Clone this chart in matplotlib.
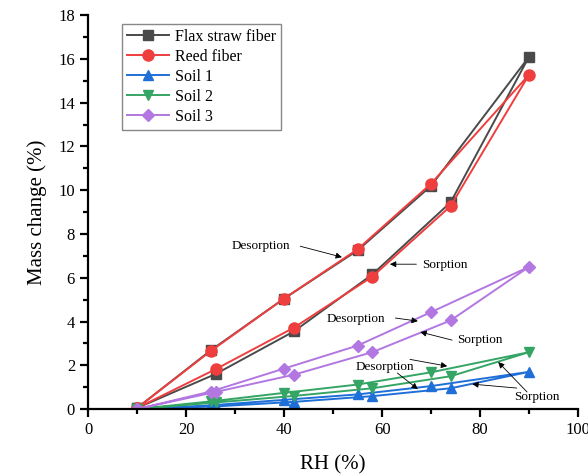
import matplotlib.pyplot as plt

plt.rcParams["font.family"] = ["Liberation Serif", "DejaVu Serif"]

# relative humidity steps (%)
rh_sorption = [10, 26, 42, 58, 74, 90]
rh_desorption = [90, 70, 55, 40, 25, 10]

names = ["Flax straw fiber", "Reed fiber", "Soil 1", "Soil 2", "Soil 3"]

# mass change (%)
flax_sorp = [0.05, 1.6, 3.55, 6.15, 9.45, 16.1]
flax_desorp = [16.1, 10.2, 7.25, 5.05, 2.68, 0.05]
reed_sorp = [0.05, 1.82, 3.72, 6.05, 9.28, 15.28]
reed_desorp = [15.28, 10.3, 7.3, 5.05, 2.65, 0.05]
soil1_sorp = [0.0, 0.12, 0.33, 0.59, 0.95, 1.7]
soil1_desorp = [1.7, 1.05, 0.67, 0.42, 0.17, 0.0]
soil2_sorp = [0.0, 0.3, 0.6, 0.95, 1.5, 2.6]
soil2_desorp = [2.6, 1.68, 1.12, 0.74, 0.35, 0.0]
soil3_sorp = [0.0, 0.78, 1.57, 2.6, 4.05, 6.5]
soil3_desorp = [6.5, 4.43, 2.9, 1.85, 0.8, 0.0]

sorp = [flax_sorp, reed_sorp, soil1_sorp, soil2_sorp, soil3_sorp]
desorp = [flax_desorp, reed_desorp, soil1_desorp, soil2_desorp, soil3_desorp]
colors = ["#4a4a4a", "#ef3e3e", "#1f6fd8", "#35a565", "#b277e0"]
markers = ["s", "o", "^", "v", "D"]
sizes = [7, 8, 7.5, 7.5, 6.5]


def main():
    fig = plt.figure(figsize=(5.88, 4.74), dpi=100)
    ax = fig.add_axes([0.150, 0.137, 0.833, 0.831])

    for name, s, d, c, m, ms in zip(names, sorp, desorp, colors, markers, sizes):
        x = rh_sorption + rh_desorption[1:]
        y = s + d[1:]
        ax.plot(x, y, color=c, marker=m, markersize=ms, lw=1.4, label=name)

    ax.set_xlim(0, 100)
    ax.set_ylim(0, 18)
    ax.set_xticks(range(0, 101, 20))
    ax.set_xticks(range(10, 100, 20), minor=True)
    ax.set_yticks(range(0, 19, 2))
    ax.set_yticks(range(1, 18, 2), minor=True)
    ax.spines["top"].set_visible(False)
    ax.spines["right"].set_visible(False)
    for sp in ("left", "bottom"):
        ax.spines[sp].set_linewidth(1.6)
    ax.tick_params(which="major", direction="out", length=6, width=1.6, labelsize=12)
    ax.tick_params(which="minor", direction="out", length=3.5, width=1.6)
    ax.set_xlabel("RH (%)", fontsize=15, labelpad=12)
    ax.set_ylabel("Mass change (%)", fontsize=15, labelpad=8)

    leg = ax.legend(loc="upper left", bbox_to_anchor=(0.07, 0.977), fontsize=11.5,
                    fancybox=False, edgecolor="#888888", framealpha=1,
                    borderaxespad=0, handlelength=2.6, borderpad=0.3,
                    labelspacing=0.25, handletextpad=0.4)
    leg.get_frame().set_linewidth(1.0)

    arrow = dict(arrowstyle="-|>", color="black", lw=0.6, mutation_scale=9,
                 shrinkA=0, shrinkB=0)
    fs = 9.5
    # fibers
    ax.annotate("", xy=(51.8, 6.94), xytext=(43.3, 7.44), arrowprops=arrow)
    ax.text(35.3, 7.44, "Desorption", fontsize=fs, ha="center", va="center")
    ax.annotate("", xy=(61.6, 6.62), xytext=(67.0, 6.62), arrowprops=arrow)
    ax.text(68.2, 6.58, "Sorption", fontsize=fs, ha="left", va="center")
    # soil 3
    ax.annotate("", xy=(67.3, 4.02), xytext=(62.7, 4.16), arrowprops=arrow)
    ax.text(54.7, 4.11, "Desorption", fontsize=fs, ha="center", va="center")
    ax.annotate("", xy=(67.8, 3.52), xytext=(74.3, 3.15), arrowprops=arrow)
    ax.text(80.0, 3.15, "Sorption", fontsize=fs, ha="center", va="center")
    # soils 1 and 2
    ax.annotate("", xy=(73.3, 1.96), xytext=(65.7, 2.27), arrowprops=arrow)
    ax.annotate("", xy=(67.3, 0.91), xytext=(63.1, 1.65), arrowprops=arrow)
    ax.text(60.6, 1.92, "Desorption", fontsize=fs, ha="center", va="center")
    ax.annotate("", xy=(83.7, 2.15), xytext=(89.6, 0.78), arrowprops=arrow)
    ax.annotate("", xy=(78.4, 1.14), xytext=(87.5, 0.96), arrowprops=arrow)
    ax.text(91.6, 0.55, "Sorption", fontsize=fs, ha="center", va="center")

    fig.savefig("out.png", dpi=100)


if __name__ == "__main__":
    main()
